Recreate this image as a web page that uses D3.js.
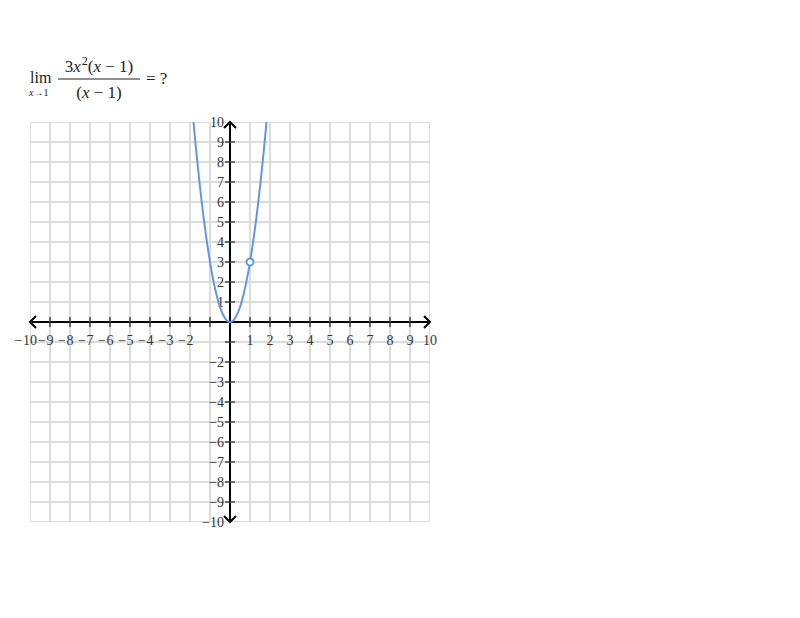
<!DOCTYPE html>
<html><head><meta charset="utf-8">
<script src="https://cdn.jsdelivr.net/npm/d3@7"></script>
<style>body{margin:0;background:#fff}svg{display:block}
.serif{font-family:"Liberation Serif","Times New Roman",serif}</style>
</head><body>
<svg id="c" width="800" height="618"></svg>
<script>
// data: points read along the plotted curve y = 3x^2 (x−1)/(x−1)
const curveX = [-2,-1.9,-1.8,-1.7,-1.6,-1.5,-1.4,-1.3,-1.2,-1.1,-1,-0.9,-0.8,-0.7,-0.6,-0.5,-0.4,-0.3,-0.2,-0.1,0,0.1,0.2,0.3,0.4,0.5,0.6,0.7,0.8,0.9,1,1.1,1.2,1.3,1.4,1.5,1.6,1.7,1.8,1.9,2];
const curveY = [12,10.83,9.72,8.67,7.68,6.75,5.88,5.07,4.32,3.63,3,2.43,1.92,1.47,1.08,0.75,0.48,0.27,0.12,0.03,0,0.03,0.12,0.27,0.48,0.75,1.08,1.47,1.92,2.43,3,3.63,4.32,5.07,5.88,6.75,7.68,8.67,9.72,10.83,12];
const holePoint = [1, 3];
const xTicks = [-10,-9,-8,-7,-6,-5,-4,-3,-2,1,2,3,4,5,6,7,8,9,10];
const yTicks = [10,9,8,7,6,5,4,3,2,1,-2,-3,-4,-5,-6,-7,-8,-9,-10];
const gridValues = d3.range(-10, 11);
const tickMarks = gridValues.filter(v => v !== 0 && Math.abs(v) !== 10);

const svg = d3.select("#c");
const x = d3.scaleLinear().domain([-10, 10]).range([30, 430]);
const y = d3.scaleLinear().domain([-10, 10]).range([522, 122]);

// title formula
const t = svg.append("g").attr("class", "serif").attr("fill", "#222");
t.append("text").attr("x", 30).attr("y", 83).attr("font-size", 16).text("lim");
const sub = t.append("text").attr("x", 29).attr("y", 96).attr("font-size", 10);
sub.append("tspan").attr("font-style", "italic").text("x");
sub.append("tspan").text("→1");
const num = t.append("text").attr("x", 99).attr("y", 72).attr("font-size", 17).attr("text-anchor", "middle");
num.append("tspan").text("3");
num.append("tspan").attr("font-style", "italic").text("x");
num.append("tspan").attr("font-size", 12).attr("dy", -7).attr("dx", 1).text("2");
num.append("tspan").attr("dy", 7).text("(");
num.append("tspan").attr("font-style", "italic").text("x");
num.append("tspan").text(" − 1)");
t.append("line").attr("x1", 58).attr("x2", 140).attr("y1", 79).attr("y2", 79).attr("stroke", "#222").attr("stroke-width", 1);
const den = t.append("text").attr("x", 99).attr("y", 98).attr("font-size", 17).attr("text-anchor", "middle");
den.append("tspan").text("(");
den.append("tspan").attr("font-style", "italic").text("x");
den.append("tspan").text(" − 1)");
t.append("text").attr("x", 146).attr("y", 84).attr("font-size", 17).text("= ?");

// grid
svg.append("defs").append("clipPath").attr("id", "clip")
  .append("rect").attr("x", 30).attr("y", 122).attr("width", 400).attr("height", 400);
const grid = svg.append("g").attr("clip-path", "url(#clip)").attr("stroke", "#dcdcdc").attr("stroke-width", 2);
grid.selectAll(".v").data(gridValues).join("line")
  .attr("x1", d => x(d)).attr("x2", d => x(d)).attr("y1", 122).attr("y2", 522);
grid.selectAll(".h").data(gridValues).join("line")
  .attr("y1", d => y(d)).attr("y2", d => y(d)).attr("x1", 30).attr("x2", 430);

// axes
const ax = svg.append("g").attr("stroke", "#000").attr("stroke-width", 2).attr("fill", "none");
ax.append("line").attr("x1", x(-10) + 2).attr("x2", x(10) - 2).attr("y1", y(0)).attr("y2", y(0));
ax.append("line").attr("y1", y(10) + 2).attr("y2", y(-10) - 2).attr("x1", x(0)).attr("x2", x(0));
const ah = 6;
ax.append("path").attr("d", `M${x(10)-ah},${y(0)-ah}L${x(10)},${y(0)}L${x(10)-ah},${y(0)+ah}`);
ax.append("path").attr("d", `M${x(-10)+ah},${y(0)-ah}L${x(-10)},${y(0)}L${x(-10)+ah},${y(0)+ah}`);
ax.append("path").attr("d", `M${x(0)-ah},${y(10)+ah}L${x(0)},${y(10)}L${x(0)+ah},${y(10)+ah}`);
ax.append("path").attr("d", `M${x(0)-ah},${y(-10)-ah}L${x(0)},${y(-10)}L${x(0)+ah},${y(-10)-ah}`);

// tick marks
const tk = svg.append("g").attr("stroke", "#444").attr("stroke-width", 1.5);
tk.selectAll(".tx").data(tickMarks).join("line")
  .attr("x1", d => x(d)).attr("x2", d => x(d)).attr("y1", y(0) - 5).attr("y2", y(0) + 5);
tk.selectAll(".ty").data(tickMarks).join("line")
  .attr("y1", d => y(d)).attr("y2", d => y(d)).attr("x1", x(0) - 5).attr("x2", x(0) + 5);

// tick labels
const lab = svg.append("g").attr("class", "serif").attr("font-size", 14).attr("fill", "#333");
xTicks.forEach(v => {
  const tx = lab.append("text").attr("x", x(v)).attr("y", y(0) + 23).attr("text-anchor", "middle").text(Math.abs(v));
  if (v < 0) {
    const w = tx.node().getComputedTextLength();
    lab.append("text").attr("x", x(v) - w / 2 - 0.5).attr("y", y(0) + 23).attr("text-anchor", "end").text("−");
  }
});
yTicks.forEach(v => {
  lab.append("text").attr("x", x(0) - 6).attr("y", y(v) + 5).attr("text-anchor", "end")
    .text(v < 0 ? "−" + Math.abs(v) : v);
});

// curve
const pts = curveX.map((d, i) => [d, curveY[i]]);
svg.append("path").datum(pts).attr("clip-path", "url(#clip)")
  .attr("fill", "none").attr("stroke", "#6495ed").attr("stroke-width", 2)
  .attr("d", d3.line().x(d => x(d[0])).y(d => y(d[1])).curve(d3.curveCatmullRom));
svg.append("circle").attr("cx", x(holePoint[0])).attr("cy", y(holePoint[1])).attr("r", 3.5)
  .attr("fill", "#fff").attr("stroke", "#6495ed").attr("stroke-width", 2);
</script>
</body></html>
